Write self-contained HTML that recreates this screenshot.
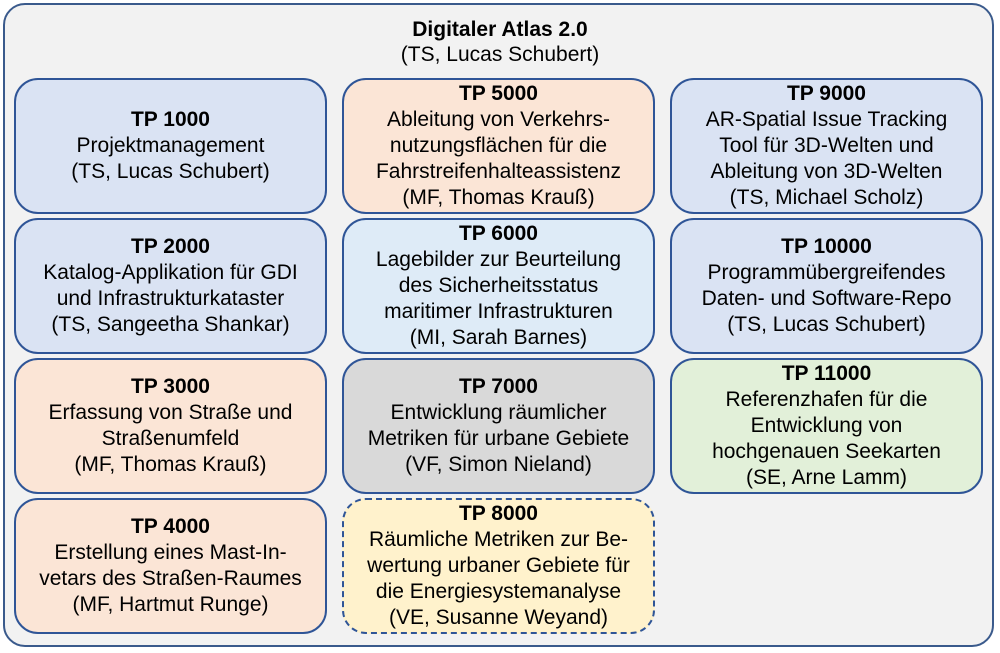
<!DOCTYPE html>
<html><head><meta charset="utf-8"><style>
body{margin:0;width:1000px;height:653px;background:#fff;font-family:"Liberation Sans",Arial,sans-serif;position:relative;overflow:hidden}
.outer{position:absolute;left:3px;top:3px;width:991px;height:644px;border:2px solid #3a5a8c;border-radius:22px;background:#f2f2f2;box-sizing:border-box}
.title{position:absolute;left:0;width:1000px;top:17px;text-align:center;font-size:21px;line-height:25px;color:#000}
.b{position:absolute;width:313px;height:136px;border:2px solid #2f5597;border-radius:24px;box-sizing:border-box;display:flex;align-items:center;justify-content:center;text-align:center;font-size:21px;line-height:26px;color:#000;white-space:nowrap}
.blue{background:#dae3f3}.or{background:#fbe5d6}.lb{background:#deebf7}.gr{background:#d9d9d9}.gn{background:#e2f0d9}.ye{background:#fff2cc;border-style:dashed}
</style></head><body>
<div class="outer"></div>
<div class="title"><b>Digitaler Atlas 2.0</b><br>(TS, Lucas Schubert)</div>

<div class="b blue" style="left:14px;top:78px"><div><b>TP 1000</b><br>Projektmanagement<br>(TS, Lucas Schubert)</div></div>
<div class="b blue" style="left:14px;top:218px"><div><b>TP 2000</b><br>Katalog-Applikation für GDI<br>und Infrastrukturkataster<br>(TS, Sangeetha Shankar)</div></div>
<div class="b or" style="left:14px;top:358px"><div><b>TP 3000</b><br>Erfassung von Straße und<br>Straßenumfeld<br>(MF, Thomas Krauß)</div></div>
<div class="b or" style="left:14px;top:498px"><div><b>TP 4000</b><br>Erstellung eines Mast-In-<br>vetars des Straßen-Raumes<br>(MF, Hartmut Runge)</div></div>

<div class="b or" style="left:342px;top:78px"><div><b>TP 5000</b><br>Ableitung von Verkehrs-<br>nutzungsflächen für die<br>Fahrstreifenhalteassistenz<br>(MF, Thomas Krauß)</div></div>
<div class="b lb" style="left:342px;top:218px"><div><b>TP 6000</b><br>Lagebilder zur Beurteilung<br>des Sicherheitsstatus<br>maritimer Infrastrukturen<br>(MI, Sarah Barnes)</div></div>
<div class="b gr" style="left:342px;top:358px"><div><b>TP 7000</b><br>Entwicklung räumlicher<br>Metriken für urbane Gebiete<br>(VF, Simon Nieland)</div></div>
<div class="b ye" style="left:342px;top:498px"><div><b>TP 8000</b><br>Räumliche Metriken zur Be-<br>wertung urbaner Gebiete für<br>die Energiesystemanalyse<br>(VE, Susanne Weyand)</div></div>

<div class="b blue" style="left:670px;top:78px"><div><b>TP 9000</b><br>AR-Spatial Issue Tracking<br>Tool für 3D-Welten und<br>Ableitung von 3D-Welten<br>(TS, Michael Scholz)</div></div>
<div class="b blue" style="left:670px;top:218px"><div><b>TP 10000</b><br>Programmübergreifendes<br>Daten- und Software-Repo<br>(TS, Lucas Schubert)</div></div>
<div class="b gn" style="left:670px;top:358px"><div><b>TP 11000</b><br>Referenzhafen für die<br>Entwicklung von<br>hochgenauen Seekarten<br>(SE, Arne Lamm)</div></div>
</body></html>
